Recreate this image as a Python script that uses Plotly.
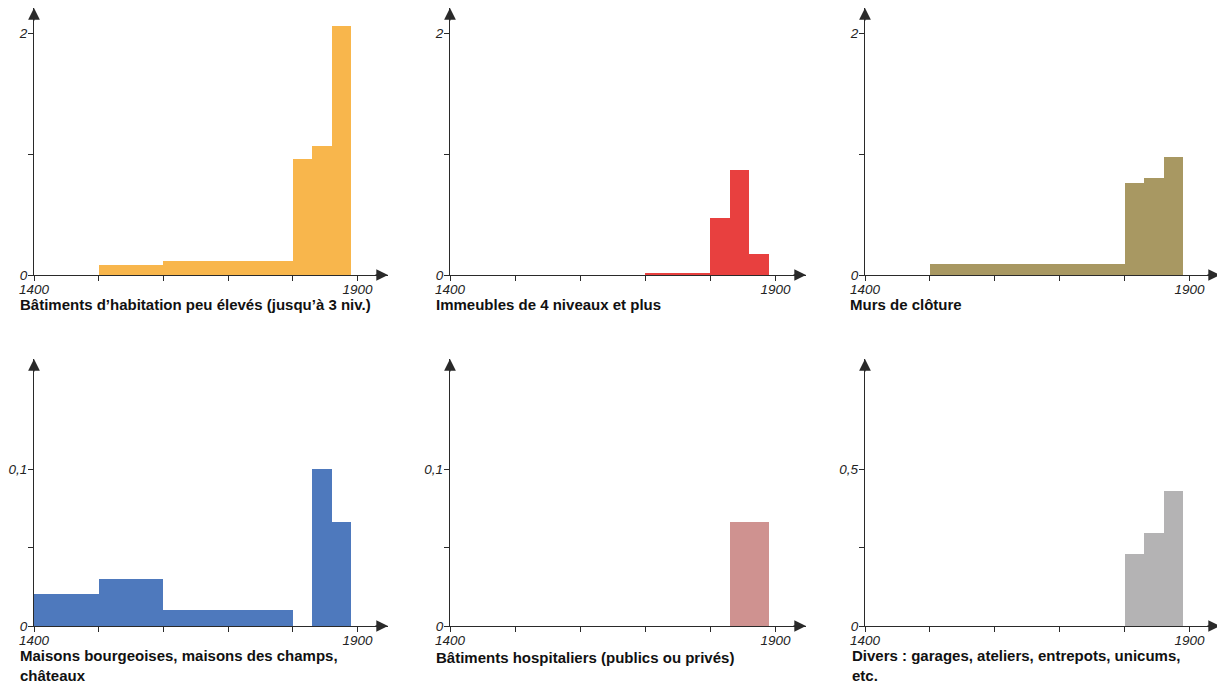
import plotly.graph_objects as go

# the page body adds 8px around the figure
OFF = 8
W, H = 1225 - OFF, 682 - OFF

# bins (start, end) and values per panel
hab_start = [1500, 1600, 1800, 1830, 1860]
hab_end = [1600, 1800, 1830, 1860, 1890]
hab_val = [0.083, 0.115, 0.96, 1.07, 2.06]

imm_start = [1700, 1800, 1830, 1860]
imm_end = [1800, 1830, 1860, 1890]
imm_val = [0.02, 0.47, 0.87, 0.17]

murs_start = [1500, 1800, 1830, 1860]
murs_end = [1800, 1830, 1860, 1890]
murs_val = [0.09, 0.765, 0.80, 0.975]

mais_start = [1400, 1500, 1600, 1830, 1860]
mais_end = [1500, 1600, 1800, 1860, 1890]
mais_val = [0.0202, 0.030, 0.0102, 0.100, 0.0666]

hosp_start = [1830]
hosp_end = [1890]
hosp_val = [0.0666]

div_start = [1800, 1830, 1860]
div_end = [1830, 1860, 1890]
div_val = [0.23, 0.298, 0.43]

titles = [
    "Bâtiments d’habitation peu élevés (jusqu’à 3 niv.)",
    "Immeubles de 4 niveaux et plus",
    "Murs de clôture",
    "Maisons bourgeoises, maisons des champs,<br>châteaux",
    "Bâtiments hospitaliers (publics ou privés)",
    "Divers : garages, ateliers, entrepots, unicums,<br>etc.",
]
colors = ["#F8B64C", "#E8403F", "#A89862", "#4E79BD", "#CF9290", "#B4B3B4"]

x_ticks = [1400, 1500, 1600, 1700, 1800, 1900]
x_ticktext = ["1400", "", "", "", "", "1900"]
y_ticks = [[0, 1, 2], [0, 1, 2], [0, 1, 2], [0, 0.05, 0.1], [0, 0.05, 0.1], [0, 0.25, 0.5]]
y_ticktext = [["0", "", "2"], ["0", "", "2"], ["0", "", "2"],
              ["0", "", "0,1"], ["0", "", "0,1"], ["0", "", "0,5"]]
y_max = [2.21, 2.21, 2.21, 0.1705, 0.1705, 0.852]
x_max = 1947

data = [
    (hab_start, hab_end, hab_val),
    (imm_start, imm_end, imm_val),
    (murs_start, murs_end, murs_val),
    (mais_start, mais_end, mais_val),
    (hosp_start, hosp_end, hosp_val),
    (div_start, div_end, div_val),
]

# pixel boxes of the plot areas (page coordinates)
cols_px = [(34, 388), (450, 806), (865, 1220)]
rows_px = [(8, 275), (359, 626)]
title_x = [18, 434, 848, 18, 434, 850]
title_y = [305, 305, 305, 665, 657, 665]


def px(v, total):
    return (v - OFF) / total


FONT = "Arial, 'Liberation Sans', sans-serif"
AX = "#2a2a2a"

fig = go.Figure()
layout = {}
annotations = []

for i, (st, en, val) in enumerate(data):
    r, c = divmod(i, 3)
    n = "" if i == 0 else str(i + 1)
    xa, ya = "x" + n, "y" + n
    centers = [(a + b) / 2 for a, b in zip(st, en)]
    widths = [b - a for a, b in zip(st, en)]
    fig.add_trace(go.Bar(
        x=centers, y=val, width=widths, xaxis=xa, yaxis=ya,
        marker=dict(color=colors[i], line=dict(width=0)),
        showlegend=False,
    ))
    x0, x1 = cols_px[c]
    t0, t1 = rows_px[r]
    common = dict(showgrid=False, zeroline=False, showline=True, linecolor=AX,
                  linewidth=1.3, ticks="outside", ticklen=5, tickcolor=AX, tickwidth=1.2,
                  automargin=False,
                  tickfont=dict(family=FONT, size=13.5, color="#222", style="italic"))
    layout["xaxis" + n] = dict(
        domain=[px(x0, W), px(x1, W)], anchor=ya, range=[1400, x_max],
        tickvals=x_ticks, ticktext=x_ticktext, ticklabelstandoff=-3, **common)
    layout["yaxis" + n] = dict(
        domain=[1 - px(t1, H), 1 - px(t0, H)], anchor=xa, range=[0, y_max[i]],
        tickvals=y_ticks[i], ticktext=y_ticktext[i], ticklabelstandoff=-2, **common)
    # arrow heads
    annotations.append(dict(x=x_max, y=0, xref=xa, yref=ya, ax=-14, ay=0,
                            showarrow=True, arrowhead=2, arrowsize=1.8,
                            arrowwidth=1.3, arrowcolor=AX, text=""))
    annotations.append(dict(x=1400, y=y_max[i], xref=xa, yref=ya, ax=0, ay=14,
                            showarrow=True, arrowhead=2, arrowsize=1.8,
                            arrowwidth=1.3, arrowcolor=AX, text=""))
    annotations.append(dict(x=px(title_x[i], W), y=1 - px(title_y[i], H),
                            xref="paper", yref="paper",
                            xanchor="left", yanchor="middle", align="left", showarrow=False,
                            text="<b>" + titles[i] + "</b>",
                            font=dict(family=FONT, size=15, color="#111")))

fig.update_layout(
    **layout,
    annotations=annotations,
    width=W, height=H,
    margin=dict(l=0, r=0, t=0, b=0, autoexpand=False),
    paper_bgcolor="white", plot_bgcolor="white",
    bargap=0,
)

fig.write_html("out.html")
